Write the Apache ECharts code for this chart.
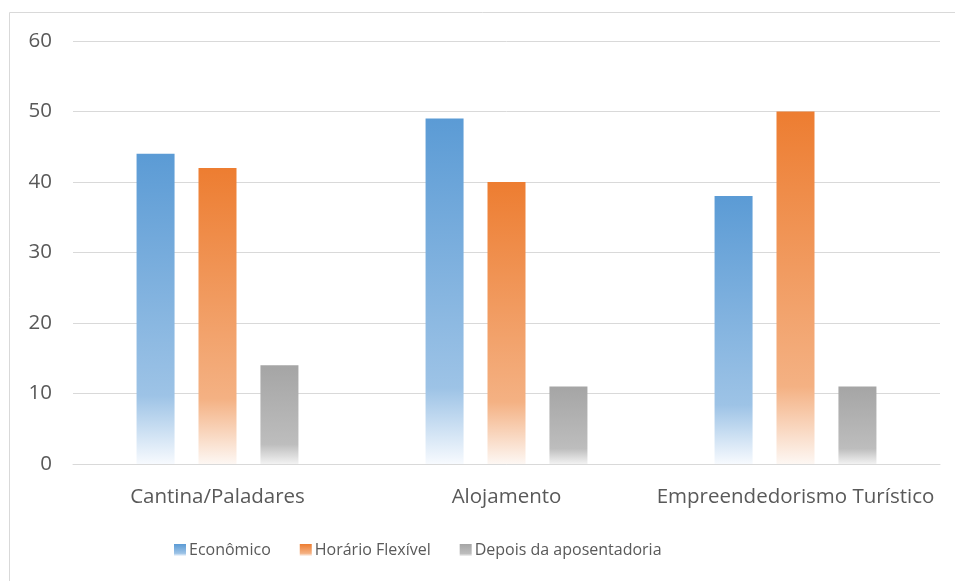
<!DOCTYPE html>
<html>
<head>
<meta charset="utf-8">
<script src="https://cdn.jsdelivr.net/npm/echarts@6/dist/echarts.min.js"></script>
<style>
html,body{margin:0;padding:0;background:#fff;}
#c{width:955px;height:581px;}
</style>
</head>
<body>
<div id="c"></div>
<script>
const categories = ['Cantina/Paladares', 'Alojamento', 'Empreendedorismo Turístico'];
const economico = [44, 49, 38];
const horarioFlexivel = [42, 40, 50];
const depoisAposentadoria = [14, 11, 11];
const seriesNames = ['Econômico', 'Horário Flexível', 'Depois da aposentadoria'];

function grad(top, mid, bottom, stop) {
  return new echarts.graphic.LinearGradient(0, 0, 0, 1, [
    {offset: 0, color: top},
    {offset: stop, color: mid},
    {offset: 1, color: bottom}
  ]);
}
const FONT = 'Open Sans';
const chart = echarts.init(document.getElementById('c'));
chart.setOption({
  animation: false,
  textStyle: {fontFamily: FONT},
  graphic: [{
    type: 'rect', z: -10, silent: true,
    shape: {x: 9.5, y: 12.5, width: 1000, height: 1000},
    style: {fill: 'none', stroke: '#D9D9D9', lineWidth: 1}
  }],
  grid: {left: 73, right: 15, top: 41, bottom: 117, containLabel: false},
  legend: {
    top: 537, left: 169,
    itemWidth: 12, itemHeight: 12, itemGap: 29,
    icon: 'rect',
    textStyle: {fontFamily: FONT, fontSize: 16, color: '#595959', padding: [0, 0, 0, -2]},
    data: seriesNames
  },
  xAxis: {
    type: 'category', data: categories,
    axisLine: {lineStyle: {color: '#D9D9D9', width: 1}},
    axisTick: {show: false},
    axisLabel: {color: '#595959', fontSize: 20.5, fontFamily: FONT, margin: 23, interval: 0}
  },
  yAxis: {
    type: 'value', min: 0, max: 60, interval: 10,
    axisLine: {show: false}, axisTick: {show: false},
    splitLine: {lineStyle: {color: '#D9D9D9', width: 1}},
    axisLabel: {color: '#595959', fontSize: 20.5, fontFamily: FONT, margin: 21}
  },
  series: [
    {name: seriesNames[0], type: 'bar', data: economico, barWidth: 38, barGap: '63%',
     itemStyle: {color: grad('#5B9BD5', '#9DC3E6', '#F7FAFE', 0.78)}},
    {name: seriesNames[1], type: 'bar', data: horarioFlexivel, barWidth: 38, barGap: '63%',
     itemStyle: {color: grad('#ED7D31', '#F4B183', '#FDF7F3', 0.78)}},
    {name: seriesNames[2], type: 'bar', data: depoisAposentadoria, barWidth: 38, barGap: '63%',
     itemStyle: {color: grad('#A5A5A5', '#BDBDBD', '#F2F2F2', 0.8)}}
  ]
});
</script>
</body>
</html>
